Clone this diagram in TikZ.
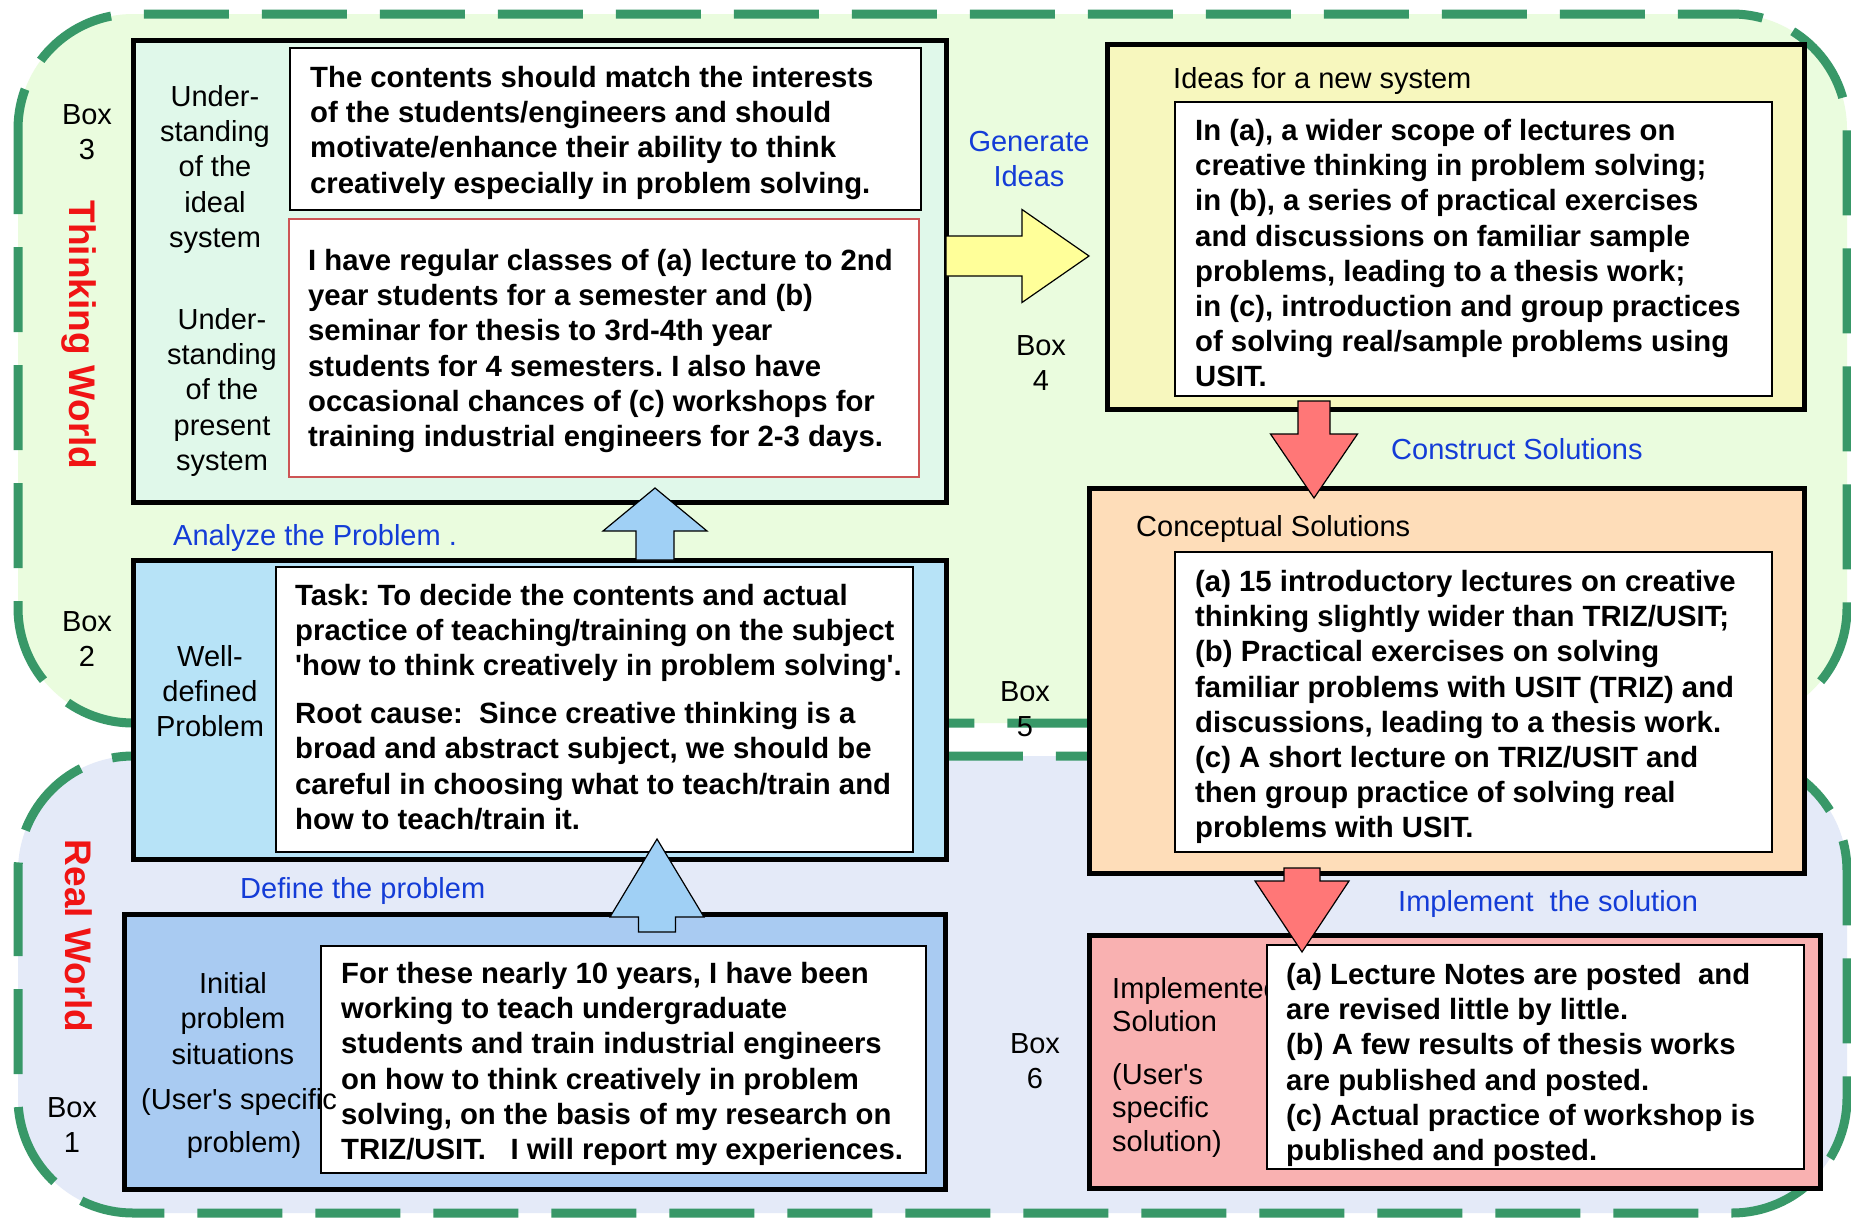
\documentclass[tikz,border=0pt]{standalone}
\usepackage{fontspec}
\setmainfont{Liberation Sans}
\usetikzlibrary{calc}
\frenchspacing

\definecolor{dashgreen}{RGB}{56,152,104}
\definecolor{thinkfill}{RGB}{234,252,222}
\definecolor{realfill}{RGB}{228,234,248}
\definecolor{boxthree}{RGB}{224,248,234}
\definecolor{boxtwo}{RGB}{183,227,247}
\definecolor{boxone}{RGB}{169,203,242}
\definecolor{boxfour}{RGB}{247,247,190}
\definecolor{boxfive}{RGB}{254,221,185}
\definecolor{boxsix}{RGB}{249,177,177}
\definecolor{arrowyellow}{RGB}{255,255,153}
\definecolor{arrowblue}{RGB}{160,208,245}
\definecolor{arrowred}{RGB}{255,119,119}
\definecolor{steptext}{RGB}{20,60,215}
\definecolor{worldred}{RGB}{240,20,20}
\definecolor{redframe}{RGB}{205,85,85}

\tikzset{
  region/.style={draw=dashgreen, line width=9pt, dash pattern=on 85pt off 33pt, rounded corners=115pt},
  outerbox/.style={draw=black, line width=5pt, inner sep=0pt, outer sep=0pt, anchor=north west},
  innerbox/.style={draw=black, line width=2.5pt, fill=white, inner sep=0pt, outer sep=0pt, anchor=north west},
  bodytext/.style={font=\fontsize{29.3}{35.2}\selectfont\bfseries, align=left, inner sep=0pt, anchor=north west},
  sidetext/.style={font=\fontsize{29}{35.3}\selectfont, align=center, inner sep=0pt, anchor=north},
  plaintext/.style={font=\fontsize{29}{35.3}\selectfont, inner sep=0pt, anchor=base west},
  steplabel/.style={font=\fontsize{29}{35.3}\selectfont, text=steptext, inner sep=0pt, anchor=base west},
  worldlabel/.style={font=\fontsize{37}{40}\selectfont\bfseries, text=worldred, inner sep=0pt, rotate=-90},
  blockarrow/.style={draw=black, line width=1.2pt},
}

% vertical block arrow: fill, base, tip, shaft half width, head half width, signed head length
\newcommand\vblockarrow[6]{%
  \filldraw[blockarrow, fill=#1] let \p1=(#2), \p2=(#3) in
    (\x1-#4,\y1) -- (\x1-#4,\y2+#6) -- (\x2-#5,\y2+#6) -- (\x2,\y2) --
    (\x2+#5,\y2+#6) -- (\x1+#4,\y2+#6) -- (\x1+#4,\y1) -- cycle;}

\begin{document}
\begin{tikzpicture}[x=1pt, y=-1pt]
\useasboundingbox (0,0) rectangle (1851,1218);
\fill[white] (0,0) rectangle (1851,1218);

% the two worlds
\draw[region, fill=thinkfill] (18,14) rectangle (1847,723);
\draw[region, fill=realfill] (18,756) rectangle (1847,1213);

\node[worldlabel] (tw) at (79,335) {Thinking World};
\node[worldlabel] (rw) at (79,936) {Real World};

% Box 3: understanding of the ideal and present systems
\node[outerbox, fill=boxthree, minimum width=813pt, minimum height=462pt] (b3) at (133,40) {};
\node[innerbox, minimum width=631pt, minimum height=162pt] (b3a) at (290,48) {};
\node[innerbox, draw=redframe, line width=2pt, minimum width=630pt, minimum height=258pt] (b3b) at (289,219) {};
\node[bodytext] (t3a) at (310,66) {The contents should match the interests\\
of the students/engineers and should\\
motivate/enhance their ability to think\\
creatively especially in problem solving.};
\node[bodytext] (t3b) at (308,249) {I have regular classes of (a) lecture to 2nd\\
year students for a semester and (b)\\
seminar for thesis to 3rd-4th year\\
students for 4 semesters. I also have\\
occasional chances of (c) workshops for\\
training industrial engineers for 2-3 days.};
\node[sidetext] (s3a) at (215,85) {Under-\\standing\\of the\\ideal\\system};
\node[sidetext] (s3b) at (222,308) {Under-\\standing\\of the\\present\\system};
\node[sidetext] (n3) at (87,104) {Box\\3};

% Box 2: well-defined problem
\node[outerbox, fill=boxtwo, minimum width=813pt, minimum height=299pt] (b2) at (133,560) {};
\node[innerbox, minimum width=637pt, minimum height=285pt] (b2a) at (276,567) {};
\node[bodytext] (t2) at (295,584) {Task: To decide the contents and actual\\
practice of teaching/training on the subject\\
\textquotesingle how to think creatively in problem solving\textquotesingle.\\[12.7pt]
Root cause:\ \ Since creative thinking is a\\
broad and abstract subject, we should be\\
careful in choosing what to teach/train and\\
how to teach/train it.};
\node[sidetext] (s2) at (210,645) {Well-\\defined\\Problem};
\node[sidetext] (n2) at (87,611) {Box\\2};

% Box 1: initial problem situations
\node[outerbox, fill=boxone, minimum width=821pt, minimum height=275pt] (b1) at (124,914) {};
\node[sidetext, font=\fontsize{29}{35.5}\selectfont] (s1) at (233,972) {Initial\\problem\\situations};
\node[plaintext, anchor=base] (s1c) at (244,1152) {problem)};
\node[innerbox, minimum width=605pt, minimum height=227pt] (b1a) at (321,946) {};
\node[plaintext] (s1b) at (141,1109) {(User\textquotesingle s specific};
\node[bodytext] (t1) at (341,962) {For these nearly 10 years, I have been\\
working to teach undergraduate\\
students and train industrial engineers\\
on how to think creatively in problem\\
solving, on the basis of my research on\\
TRIZ/USIT.\ \ \ I will report my experiences.};
\node[sidetext] (n1) at (72,1097) {Box\\1};

% Box 4: ideas for a new system
\node[outerbox, fill=boxfour, minimum width=697pt, minimum height=365pt] (b4) at (1107,44) {};
\node[plaintext] (h4) at (1173,88) {Ideas for a new system};
\node[innerbox, minimum width=597pt, minimum height=294pt] (b4a) at (1175,102) {};
\node[bodytext] (t4) at (1195,119) {In (a), a wider scope of lectures on\\
creative thinking in problem solving;\\
in (b), a series of practical exercises\\
and discussions on familiar sample\\
problems, leading to a thesis work;\\
in (c), introduction and group practices\\
of solving real/sample problems using\\
USIT.};
\node[sidetext] (n4) at (1041,335) {Box\\4};

% Box 5: conceptual solutions
\node[outerbox, fill=boxfive, minimum width=715pt, minimum height=385pt] (b5) at (1089,488) {};
\node[plaintext] (h5) at (1136,536) {Conceptual Solutions};
\node[innerbox, minimum width=597pt, minimum height=300pt] (b5a) at (1175,552) {};
\node[bodytext] (t5) at (1195,570) {(a) 15 introductory lectures on creative\\
thinking slightly wider than TRIZ/USIT;\\
(b) Practical exercises on solving\\
familiar problems with USIT (TRIZ) and\\
discussions, leading to a thesis work.\\
(c) A short lecture on TRIZ/USIT and\\
then group practice of solving real\\
problems with USIT.};
\node[sidetext] (n5) at (1025,681) {Box\\5};

% Box 6: implemented solution
\node[outerbox, fill=boxsix, minimum width=731pt, minimum height=253pt] (b6) at (1089,935) {};
\node[sidetext, anchor=north west, align=left, font=\fontsize{29}{33.5}\selectfont] (s6a) at (1112,977) {Implemented\\Solution};
\node[sidetext, anchor=north west, align=left, font=\fontsize{29}{33.5}\selectfont] (s6b) at (1112,1063) {(User\textquotesingle s\\specific\\solution)};
\node[innerbox, minimum width=537pt, minimum height=224pt] (b6a) at (1267,945) {};
\node[bodytext] (t6) at (1286,963) {(a) Lecture Notes are posted\ \ and\\
are revised little by little.\\
(b) A few results of thesis works\\
are published and posted.\\
(c) Actual practice of workshop is\\
published and posted.};
\node[sidetext] (n6) at (1035,1033) {Box\\6};

% step labels
\node[sidetext, text=steptext] (l34) at (1029,131) {Generate\\Ideas};
\node[steplabel] (l23) at (173,545) {Analyze the Problem .};
\node[steplabel] (l12) at (240,898) {Define the problem};
\node[steplabel] (l45) at (1391,459) {Construct Solutions};
\node[steplabel] (l56) at (1398,911) {Implement\ \ the solution};

% block arrows between the boxes
\coordinate (a12base) at (657,932);
\coordinate (a12tip) at (657,839);
\coordinate (a23base) at (655,560);
\coordinate (a23tip) at (655,488);
\coordinate (a45base) at (1314,401);
\coordinate (a45tip) at (1314,498);
\coordinate (a56base) at (1302,868);
\coordinate (a56tip) at (1302,952);
\coordinate (a34base) at (946,256);
\coordinate (a34tip) at (1089,256);

\vblockarrow{arrowblue}{a12base}{a12tip}{18.5pt}{47pt}{-78pt}
\vblockarrow{arrowblue}{a23base}{a23tip}{19pt}{52pt}{-43pt}
\vblockarrow{arrowred}{a45base}{a45tip}{16pt}{43.5pt}{64pt}
\vblockarrow{arrowred}{a56base}{a56tip}{18pt}{47pt}{71pt}
\filldraw[blockarrow, fill=arrowyellow] let \p1=(a34base), \p2=(a34tip) in
  (\x1,\y1+20pt) -- (\x2-67pt,\y1+20pt) -- (\x2-67pt,\y2+46.5pt) -- (\x2,\y2) --
  (\x2-67pt,\y2-46.5pt) -- (\x2-67pt,\y1-20pt) -- (\x1,\y1-20pt) -- cycle;
\end{tikzpicture}
\end{document}
